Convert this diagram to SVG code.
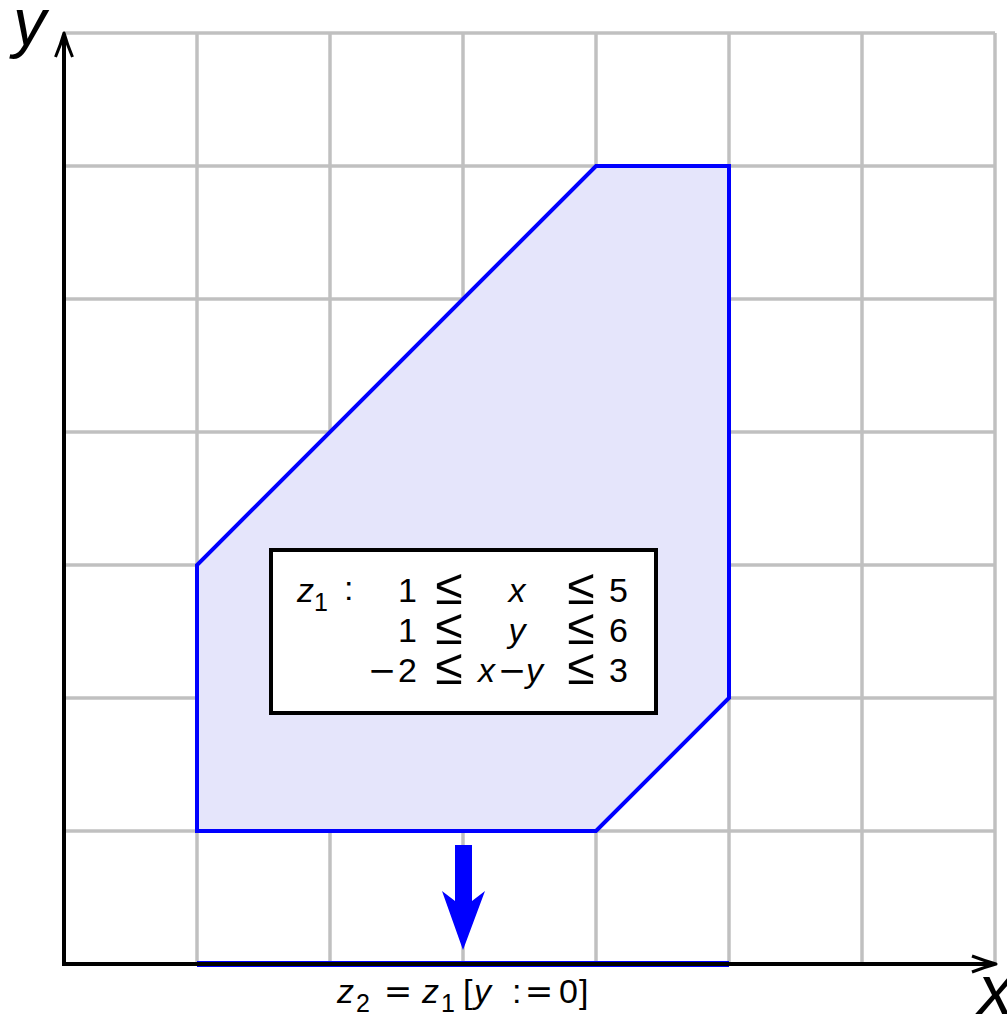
<svg xmlns="http://www.w3.org/2000/svg" width="1007" height="1017" viewBox="0 0 1007 1017">
<style>
.grid line{stroke:#c0c0c0;stroke-width:3.5}
.t{font-family:"Liberation Sans",Arial,sans-serif;font-size:34px;fill:#000}
.i{font-style:italic}
.sub{font-size:25px}
.op{font-family:"DejaVu Sans","Liberation Sans",sans-serif;font-size:34px;fill:#000;text-anchor:middle}
.le{font-family:"Liberation Sans",Arial,sans-serif;font-size:50px;fill:#000;text-anchor:middle}
.ax{font-family:"Liberation Sans",Arial,sans-serif;font-style:italic;fill:#000}
</style>
<rect width="1007" height="1017" fill="#fff"/>
<g id="grid" class="grid">
<line x1="197" y1="33" x2="197" y2="964"/>
<line x1="330" y1="33" x2="330" y2="964"/>
<line x1="463" y1="33" x2="463" y2="964"/>
<line x1="596" y1="33" x2="596" y2="964"/>
<line x1="729" y1="33" x2="729" y2="964"/>
<line x1="862" y1="33" x2="862" y2="964"/>
<line x1="995" y1="33" x2="995" y2="964"/>
<line x1="64" y1="33" x2="995" y2="33"/>
<line x1="64" y1="166" x2="995" y2="166"/>
<line x1="64" y1="299" x2="995" y2="299"/>
<line x1="64" y1="432" x2="995" y2="432"/>
<line x1="64" y1="565" x2="995" y2="565"/>
<line x1="64" y1="698" x2="995" y2="698"/>
<line x1="64" y1="831" x2="995" y2="831"/>
</g>
<g id="z1-region">
<polygon points="197,831 596,831 729,698 729,166 596,166 197,565" fill="#e5e5fb" stroke="#0000ff" stroke-width="4" stroke-linejoin="miter"/>
</g>
<g id="z2-segment">
<line x1="197" y1="964" x2="729" y2="964" stroke="#0000ff" stroke-width="6"/>
</g>
<g id="axes">
<line x1="64" y1="966" x2="64" y2="36" stroke="#000" stroke-width="4"/>
<line x1="62" y1="964" x2="994" y2="964" stroke="#000" stroke-width="4"/>
<path d="M55.5,57 Q61,44 64,33 Q67,44 72.5,57" fill="none" stroke="#000" stroke-width="3" stroke-linejoin="round"/>
<path d="M972,956 Q985,961 996,964 Q985,967 972,972" fill="none" stroke="#000" stroke-width="3" stroke-linejoin="round"/>
<text class="ax" x="13" y="45" font-size="66">y</text>
<text class="ax" x="978" y="1014" font-size="70">x</text>
</g>
<g id="connectors">
<path d="M455,845 H472 V901 L485,891 L463,950 L442,891 L455,901 Z" fill="#0000ff"/>
</g>
<g id="z1-box">
<rect x="271" y="550" width="385" height="163" fill="#fff" stroke="#000" stroke-width="4"/>
<text class="t i" x="297" y="602">z</text><text class="t sub" x="314" y="611">1</text>
<text class="t" x="344" y="600">:</text>
<text class="t" x="417" y="602" text-anchor="end">1</text>
<text class="le" x="449" y="604">≤</text>
<text class="t i" x="517" y="602" text-anchor="middle">x</text>
<text class="le" x="581" y="604">≤</text>
<text class="t" x="609" y="602">5</text>
<text class="t" x="417" y="642" text-anchor="end">1</text>
<text class="le" x="449" y="644">≤</text>
<text class="t i" x="517" y="642" text-anchor="middle">y</text>
<text class="le" x="581" y="644">≤</text>
<text class="t" x="609" y="642">6</text>
<text class="op" x="382" y="682">−</text><text class="t" x="398" y="682">2</text>
<text class="le" x="449" y="684">≤</text>
<text class="t i" x="478" y="682">x</text><text class="op" x="512" y="682">−</text><text class="t i" x="526" y="682">y</text>
<text class="le" x="581" y="684">≤</text>
<text class="t" x="609" y="682">3</text>
</g>
<g id="z2-label">
<text class="t i" x="337" y="1003">z</text><text class="t sub" x="356" y="1012">2</text>
<text class="op" x="398" y="1003">=</text>
<text class="t i" x="422" y="1003">z</text><text class="t sub" x="441" y="1012">1</text>
<text class="t" x="463" y="1003">[</text>
<text class="t i" x="474" y="1003">y</text>
<text class="t" x="512" y="1003">:</text>
<text class="op" x="539" y="1003">=</text>
<text class="t" x="559" y="1003">0</text>
<text class="t" x="579" y="1003">]</text>
</g>
</svg>
